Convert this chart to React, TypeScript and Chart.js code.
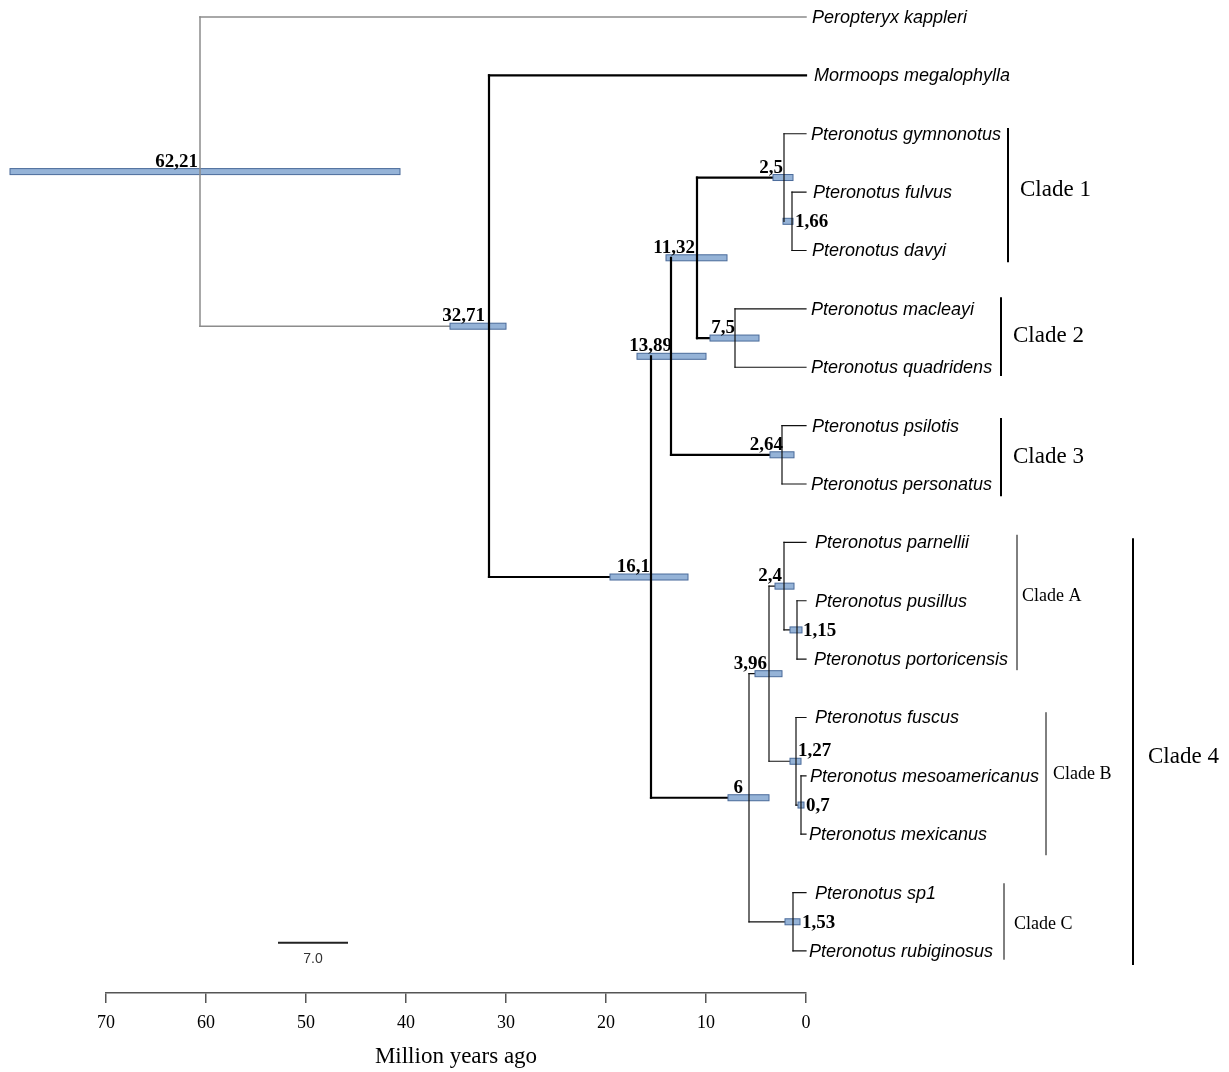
import React, { useEffect, useRef } from "react";
import { Chart, registerables } from "chart.js";

Chart.register(...registerables);

// ---------------- DATA ----------------
const tipNames = [
  "Peropteryx kappleri",
  "Mormoops megalophylla",
  "Pteronotus gymnonotus",
  "Pteronotus fulvus",
  "Pteronotus davyi",
  "Pteronotus macleayi",
  "Pteronotus quadridens",
  "Pteronotus psilotis",
  "Pteronotus personatus",
  "Pteronotus parnellii",
  "Pteronotus pusillus",
  "Pteronotus portoricensis",
  "Pteronotus fuscus",
  "Pteronotus mesoamericanus",
  "Pteronotus mexicanus",
  "Pteronotus sp1",
  "Pteronotus rubiginosus",
];

const nodeIds = ["root", "n1", "n2", "n3", "n4", "c1", "n166", "c2", "c3", "n6", "n396", "n24", "n115", "n127", "n07", "n153"];
const nodeLabels = ["62,21", "32,71", "16,1", "13,89", "11,32", "2,5", "1,66", "7,5", "2,64", "6", "3,96", "2,4", "1,15", "1,27", "0,7", "1,53"];
// node position on the time axis (Ma), as drawn
const nodeAges = [60.6, 31.7, 15.5, 13.5, 10.9, 2.2, 1.4, 7.1, 2.4, 5.7, 3.7, 2.2, 0.9, 1.0, 0.5, 1.3];
// 95% HPD interval (old end, young end)
const hpdOld = [79.6, 35.6, 19.6, 16.9, 14.0, 3.3, 2.3, 9.6, 3.6, 7.8, 5.1, 3.1, 1.6, 1.6, 0.8, 2.1];
const hpdYoung = [40.6, 30.0, 11.8, 10.0, 7.9, 1.3, 1.3, 4.7, 1.2, 3.7, 2.4, 1.2, 0.4, 0.5, 0.2, 0.6];
const nodeChildren = [
  ["Peropteryx kappleri", "n1"],
  ["Mormoops megalophylla", "n2"],
  ["n3", "n6"],
  ["n4", "c3"],
  ["c1", "c2"],
  ["Pteronotus gymnonotus", "n166"],
  ["Pteronotus fulvus", "Pteronotus davyi"],
  ["Pteronotus macleayi", "Pteronotus quadridens"],
  ["Pteronotus psilotis", "Pteronotus personatus"],
  ["n396", "n153"],
  ["n24", "n127"],
  ["Pteronotus parnellii", "n115"],
  ["Pteronotus pusillus", "Pteronotus portoricensis"],
  ["Pteronotus fuscus", "n07"],
  ["Pteronotus mesoamericanus", "Pteronotus mexicanus"],
  ["Pteronotus sp1", "Pteronotus rubiginosus"],
];

const cladeNames = ["Clade 1", "Clade 2", "Clade 3", "Clade A", "Clade B", "Clade C", "Clade 4"];
const cladeFrom = [1.9, 4.8, 6.87, 8.87, 11.91, 14.84, 8.93];
const cladeTo = [4.2, 6.15, 8.21, 11.19, 14.36, 16.15, 16.24];

const xTickValues = [70, 60, 50, 40, 30, 20, 10, 0];
const scaleBarValue = 7.0;
const scaleBarLabel = "7.0";

// ---------------- STYLE / LAYOUT ----------------
const nodeStyle = ["gray", "thick", "thick", "thick", "thick", "thin", "thin", "thin", "thin", "thin", "thin", "thin", "thin", "thin", "thin", "thin"];
const nodeLabelSide = ["left", "left", "left", "left", "left", "left", "right", "left", "left", "left", "left", "left", "right", "above", "right", "right"];
const nodeLabelDx = [-2, -4, -1, 1, -2, -1, 2, 0, 1, -6, -2, -2, 1, 2, 2, 2];
const tipLabelDx = [6, 8, 5, 7, 6, 5, 5, 6, 5, 9, 9, 8, 9, 4, 3, 9, 3];
const cladeBarX = [1008, 1001, 1001, 1017, 1046, 1004, 1133];
const cladeBarW = [2, 2, 2, 1, 1, 1, 2];
const cladeTextX = [1020, 1013, 1013, 1022, 1053, 1014, 1148];
const cladeTextIdx = [2.96, 5.46, 7.54, 9.92, 12.98, 15.55, 12.68];
const cladeFontSize = [23, 23, 23, 18, 18, 18, 23];
const scaleBarStartAge = 52.8;
const scaleBarIdx = 15.86;

const SERIF = "'Liberation Serif', 'Times New Roman', serif";
const SANS = "'Liberation Sans', Arial, sans-serif";
const BAR_FILL = "#95B3D7";
const BAR_STROKE = "#4A6B9A";

// ---------------- TREE GEOMETRY ----------------
const isTip = (id: string) => tipNames.indexOf(id) >= 0;
const nodeIndex = (id: string) => nodeIds.indexOf(id);
function yOf(id: string): number {
  if (isTip(id)) return tipNames.indexOf(id);
  const ch = nodeChildren[nodeIndex(id)];
  return (yOf(ch[0]) + yOf(ch[1])) / 2;
}
function ageOf(id: string): number {
  return isTip(id) ? 0 : nodeAges[nodeIndex(id)];
}
const nodeY = nodeIds.map((id) => yOf(id));

function horizontalPoints(style: string) {
  const pts: any[] = [];
  nodeIds.forEach((id, i) => {
    if (nodeStyle[i] !== style) return;
    nodeChildren[i].forEach((c) => {
      pts.push({ x: ageOf(c), y: yOf(c) });
      pts.push({ x: nodeAges[i], y: yOf(c) });
      pts.push({ x: NaN, y: null });
    });
  });
  return pts;
}
function verticalPoints(style: string) {
  const pts: any[] = [];
  nodeIds.forEach((id, i) => {
    if (nodeStyle[i] !== style) return;
    const [a, b] = nodeChildren[i];
    pts.push({ x: nodeAges[i], y: yOf(a) });
    pts.push({ x: nodeAges[i], y: yOf(b) });
    pts.push({ x: NaN, y: null });
  });
  return pts;
}

let barsDrawn = false;
function drawBars(chart: any) {
  const { ctx } = chart;
  const xs = chart.scales.x;
  const ys = chart.scales.y;
  ctx.save();
  nodeIds.forEach((_, i) => {
    const x1 = xs.getPixelForValue(hpdOld[i]);
    const x2 = xs.getPixelForValue(hpdYoung[i]);
    const yp = ys.getPixelForValue(nodeY[i]);
    ctx.fillStyle = BAR_FILL;
    ctx.fillRect(x1, yp - 3, x2 - x1, 6);
    ctx.strokeStyle = BAR_STROKE;
    ctx.lineWidth = 1;
    ctx.strokeRect(x1, yp - 3, x2 - x1, 6);
  });
  ctx.restore();
}

const treePlugin = {
  id: "treeDecor",
  beforeDatasetsDraw() {
    barsDrawn = false;
  },
  beforeDatasetDraw(chart: any, args: any) {
    const ds = chart.data.datasets[args.index];
    if (ds.kind === "v" && !barsDrawn) {
      drawBars(chart);
      barsDrawn = true;
    }
  },
  afterDatasetsDraw(chart: any) {
    if (!barsDrawn) {
      drawBars(chart);
      barsDrawn = true;
    }
    const { ctx } = chart;
    const xs = chart.scales.x;
    const ys = chart.scales.y;
    ctx.save();
    // node labels
    ctx.fillStyle = "#000";
    ctx.font = `bold 19px ${SERIF}`;
    nodeIds.forEach((_, i) => {
      const nx = xs.getPixelForValue(nodeAges[i]);
      const yp = ys.getPixelForValue(nodeY[i]);
      const side = nodeLabelSide[i];
      if (side === "left") {
        ctx.textAlign = "right";
        ctx.textBaseline = "alphabetic";
        ctx.fillText(nodeLabels[i], nx + nodeLabelDx[i], yp - 5);
      } else if (side === "right") {
        ctx.textAlign = "left";
        ctx.textBaseline = "middle";
        ctx.fillText(nodeLabels[i], xs.getPixelForValue(hpdYoung[i]) + nodeLabelDx[i], yp + 1);
      } else {
        ctx.textAlign = "left";
        ctx.textBaseline = "alphabetic";
        ctx.fillText(nodeLabels[i], nx + nodeLabelDx[i], yp - 5);
      }
    });
    // tip labels
    ctx.font = `italic 18px ${SANS}`;
    ctx.textAlign = "left";
    ctx.textBaseline = "middle";
    tipNames.forEach((name, i) => {
      const tx = xs.getPixelForValue(0);
      const ty = ys.getPixelForValue(i);
      ctx.fillText(name, tx + tipLabelDx[i], ty + 1);
    });
    // clade bars & labels
    cladeNames.forEach((name, i) => {
      const y1 = ys.getPixelForValue(cladeFrom[i]);
      const y2 = ys.getPixelForValue(cladeTo[i]);
      ctx.strokeStyle = "#000";
      ctx.lineWidth = cladeBarW[i];
      ctx.beginPath();
      ctx.moveTo(cladeBarX[i], y1);
      ctx.lineTo(cladeBarX[i], y2);
      ctx.stroke();
      ctx.fillStyle = "#000";
      ctx.font = `${cladeFontSize[i]}px ${SERIF}`;
      ctx.textAlign = "left";
      ctx.textBaseline = "middle";
      ctx.fillText(name, cladeTextX[i], ys.getPixelForValue(cladeTextIdx[i]));
    });
    // scale bar
    const sx1 = xs.getPixelForValue(scaleBarStartAge);
    const sx2 = xs.getPixelForValue(scaleBarStartAge - scaleBarValue);
    const sy = ys.getPixelForValue(scaleBarIdx);
    ctx.strokeStyle = "#222";
    ctx.lineWidth = 2;
    ctx.beginPath();
    ctx.moveTo(sx1, sy);
    ctx.lineTo(sx2, sy);
    ctx.stroke();
    ctx.fillStyle = "#333";
    ctx.font = `14px ${SANS}`;
    ctx.textAlign = "center";
    ctx.textBaseline = "top";
    ctx.fillText(scaleBarLabel, (sx1 + sx2) / 2, sy + 9);
    ctx.restore();
  },
};

export default function App() {
  const ref = useRef<HTMLCanvasElement | null>(null);
  useEffect(() => {
    if (!ref.current) return;
    const lineDs = (kind: string, pts: any[], color: string, width: number, order: number) => ({
      type: "scatter" as const,
      kind,
      order,
      data: pts,
      showLine: true,
      borderColor: color,
      borderWidth: width,
      pointRadius: 0,
      pointHoverRadius: 0,
      spanGaps: false,
      clip: false as any,
      borderCapStyle: "square" as const,
      borderJoinStyle: "miter" as const,
    });
    const chart = new Chart(ref.current, {
      type: "scatter",
      data: {
        datasets: [
          lineDs("h", horizontalPoints("gray"), "#8C8C8C", 1.5, 6),
          lineDs("h", horizontalPoints("thin"), "#111", 1.2, 5),
          lineDs("h", horizontalPoints("thick"), "#000", 2.2, 4),
          lineDs("v", verticalPoints("gray"), "#8C8C8C", 1.5, 3),
          lineDs("v", verticalPoints("thin"), "#111", 1.2, 2),
          lineDs("v", verticalPoints("thick"), "#000", 2.2, 1),
        ] as any,
      },
      options: {
        animation: false,
        responsive: false,
        devicePixelRatio: 1,
        events: [],
        layout: { padding: { left: 106, right: 423, top: 17, bottom: 0 } },
        plugins: { legend: { display: false }, tooltip: { enabled: false } },
        scales: {
          x: {
            type: "linear",
            position: "bottom",
            reverse: true,
            min: 0,
            max: 70,
            afterFit: (s: any) => {
              s.height = 79;
            },
            afterBuildTicks: (s: any) => {
              s.ticks = xTickValues.map((v) => ({ value: v }));
            },
            ticks: {
              color: "#000",
              font: { family: SERIF, size: 18 },
              padding: 9,
              maxRotation: 0,
              autoSkip: false,
            },
            grid: { drawOnChartArea: false, drawTicks: true, tickLength: 10, color: "#555", lineWidth: 1.5 },
            border: { display: true, color: "#555", width: 1.5 },
            title: {
              display: true,
              text: "Million years ago",
              color: "#000",
              font: { family: SERIF, size: 23 },
              padding: { top: 0, bottom: 1 },
            },
          },
          y: { type: "linear", reverse: true, min: 0, max: 16.72, display: false },
        },
      } as any,
      plugins: [treePlugin],
    });
    return () => chart.destroy();
  }, []);
  return (
    <div style={{ position: "absolute", left: 0, top: 0, width: 1229, height: 1072, background: "#fff" }}>
      <canvas ref={ref} width={1229} height={1072} style={{ display: "block" }} />
    </div>
  );
}
